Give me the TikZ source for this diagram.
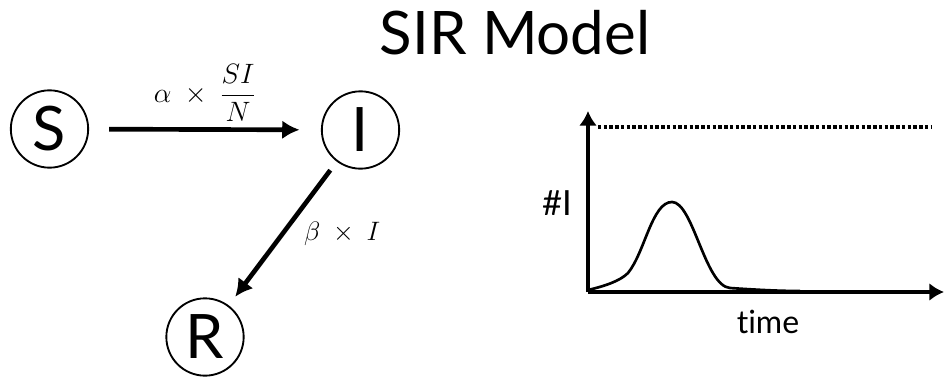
\RequirePackage{fix-cm}
\documentclass[tikz,border=0pt]{standalone}
\usepackage{fontspec}
\setmainfont[Ligatures=NoCommon]{Lato}
\usetikzlibrary{arrows.meta}

\begin{document}
\begin{tikzpicture}[
    x=0.75pt, y=-0.75pt,
    title/.style={
        font=\fontsize{45}{50}\selectfont,
        anchor=base
    },
    compartment/.style={
        circle,
        draw,
        line width=1.4pt,
        minimum size=58pt,
        inner sep=0pt,
        font=\fontsize{46}{50}\selectfont
    },
    flow/.style={
        -{Latex[length=13pt,width=14pt]},
        line width=3.5pt
    },
    rate/.style={
        font=\fontsize{21}{25}\selectfont
    },
    axis/.style={
        -{Latex[length=11pt,width=13.5pt]},
        line width=3.3pt
    },
    axislabel/.style={
        anchor=base,
        font=\fontsize{24}{28}\selectfont
    },
    curve/.style={
        line width=2pt,
        line join=round
    }
]

\useasboundingbox (0,0) rectangle (945,378);

% ==================================================
% Title
% ==================================================

\node[title] (title) at (515,55) {SIR Model};

% ==================================================
% Compartments
% ==================================================

\node[compartment] (S) at (49.5,129) {S};
\node[compartment] (I) at (360.5,130) {I};
\node[compartment] (R) at (205,337) {R};

% ==================================================
% Flows between compartments
% ==================================================

% infection S -> I
\draw[flow, shorten <=15pt, shorten >=16pt]
    (S)
    --
    node[rate, midway, above=1pt]
        {$\displaystyle \alpha\ \times\ \frac{SI}{N}$}
    (I);

% recovery I -> R
\draw[flow, shorten <=8pt, shorten >=8pt]
    (I)
    --
    node[rate, midway, right=11pt, font=\fontsize{20}{24}\selectfont]
        {$\beta\ \times\ I$}
    (R);

% ==================================================
% Plot of #I over time
% ==================================================

\coordinate (origin) at (588,292);
\coordinate (ytip)   at (588,111);
\coordinate (xtip)   at (944,292);
\coordinate (capL)   at (598,127);
\coordinate (capR)   at (931,127);

\draw[axis] (origin) -- (ytip);
\draw[axis] (origin) -- (xtip);

% population limit
\draw[line width=2.4pt, dash pattern=on 2.6pt off 1.7pt] (capL) -- (capR);

\node[axislabel, font=\fontsize{26}{30}\selectfont] (ylab) at (557,215) {\#I};
\node[axislabel] (xlab) at (768,333) {time};

% epidemic curve
\draw[curve]
    (588,290)
    .. controls (605,286) and (620,281) .. (628,273)
    .. controls (645,252) and (652,202) .. (672,202)
    .. controls (693,202) and (705,286) .. (730,288)
    .. controls (760,290) and (780,291) .. (800,291);

\end{tikzpicture}
\end{document}
